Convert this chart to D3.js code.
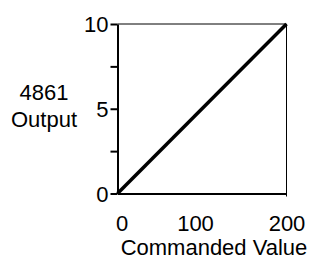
<!DOCTYPE html>
<meta charset="utf-8">
<title>4861 Output vs Commanded Value</title>
<style>
  body { margin: 0; background: #fff; }
  text { font-family: "Liberation Sans", Arial, sans-serif; font-size: 22px; fill: #000; }
  .axis path.domain { stroke: #000; stroke-width: 2px; }
  .axis .tick line { stroke: #000; stroke-width: 2px; }
  .frame { fill: none; stroke: #000; stroke-width: 1px; }
  .series { fill: none; stroke: #000; stroke-width: 3.5px; }
</style>
<body>
<script src="https://cdn.jsdelivr.net/npm/d3@7"></script>
<script>
  var commanded = [0, 200];
  var output = [0, 10];
  var xTicks = [0, 100, 200];
  var yTicks = [0, 2.5, 5, 7.5, 10];
  var yLabels = [0, 5, 10];
  var yTitle = ["4861", "Output"];
  var xTitle = "Commanded Value";

  var width = 318, height = 260;
  var x = d3.scaleLinear().domain([0, 200]).range([117.5, 286.5]);
  var y = d3.scaleLinear().domain([0, 10]).range([193.5, 24]);

  var svg = d3.select("body").append("svg")
      .attr("width", width)
      .attr("height", height);

  // thin frame on top and right
  svg.append("path")
      .attr("class", "frame")
      .attr("d", "M" + x(0) + "," + y(10) + "H" + x(200) + "V" + (y(0) + 3));

  var yAxis = d3.axisLeft(y)
      .tickValues(yTicks)
      .tickSize(7)
      .tickSizeOuter(0)
      .tickPadding(2)
      .tickFormat(function(d) { return yLabels.indexOf(d) >= 0 ? d : ""; });

  var gy = svg.append("g")
      .attr("class", "axis")
      .attr("transform", "translate(" + x(0) + ",0)")
      .call(yAxis);
  gy.attr("font-size", null).attr("font-family", null);
  gy.selectAll("text").attr("dy", "0.36em");

  var gx = svg.append("g")
      .attr("class", "axis")
      .attr("transform", "translate(0," + y(0) + ")")
      .call(d3.axisBottom(x).tickValues(xTicks).tickSize(0).tickSizeOuter(0).tickPadding(0));
  gx.attr("font-size", null).attr("font-family", null);
  var xOffsets = {0: 4, 100: -7, 200: 0};
  gx.selectAll("text")
      .attr("y", 37)
      .attr("dy", 0)
      .attr("dx", function(d) { return xOffsets[d]; });

  var line = d3.line()
      .x(function(d) { return x(d[0]); })
      .y(function(d) { return y(d[1]); });

  svg.append("path")
      .datum(d3.zip(commanded, output))
      .attr("class", "series")
      .attr("d", line);

  svg.append("text")
      .attr("x", 214)
      .attr("y", 255)
      .attr("text-anchor", "middle")
      .text(xTitle);

  svg.selectAll(".ytitle")
      .data(yTitle)
      .enter().append("text")
      .attr("class", "ytitle")
      .attr("x", 44)
      .attr("y", function(d, i) { return 100 + i * 27; })
      .attr("text-anchor", "middle")
      .text(function(d) { return d; });
</script>
</body>
